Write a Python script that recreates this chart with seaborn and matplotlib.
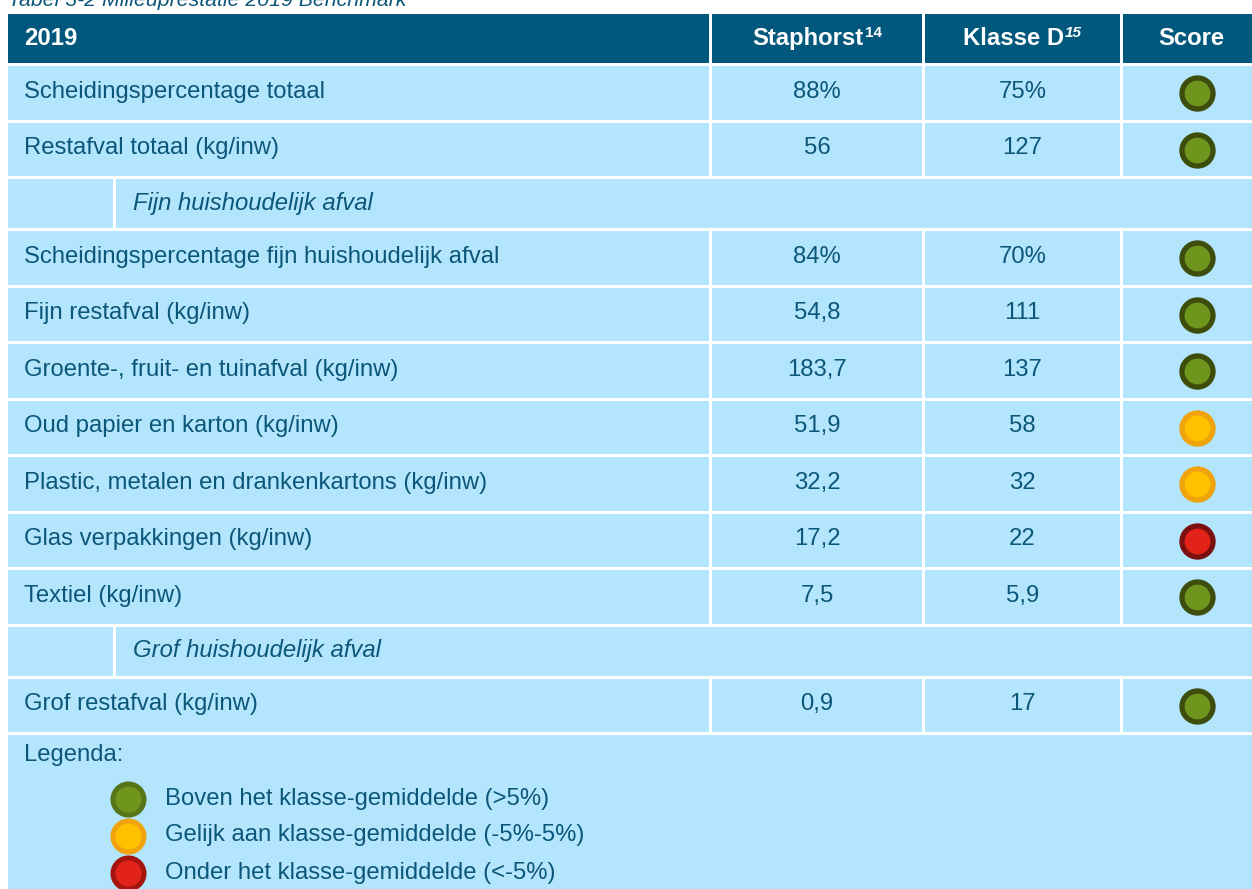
# Recreates the "Milieuprestatie 2019 Benchmark" table as a figure.

import seaborn as sns
import pandas as pd
import matplotlib.pyplot as plt
from matplotlib.patches import Rectangle

sns.set_theme(style="white")
plt.rcParams['font.family'] = ['Liberation Sans', 'DejaVu Sans']

# Table contents. None in the labels marks a section row.
title = "Tabel 3-2 Milieuprestatie 2019 Benchmark"
header = ["2019", "Staphorst", "Klasse D", "Score"]
header_sup = [None, "14", "15", None]
header_sup_italic = [False, False, True, False]
labels = [
    "Scheidingspercentage totaal",
    "Restafval totaal (kg/inw)",
    None,
    "Scheidingspercentage fijn huishoudelijk afval",
    "Fijn restafval (kg/inw)",
    "Groente-, fruit- en tuinafval (kg/inw)",
    "Oud papier en karton (kg/inw)",
    "Plastic, metalen en drankenkartons (kg/inw)",
    "Glas verpakkingen (kg/inw)",
    "Textiel (kg/inw)",
    None,
    "Grof restafval (kg/inw)",
]
sections = ["Fijn huishoudelijk afval", "Grof huishoudelijk afval"]
staphorst = [88, 56, 84, 54.8, 183.7, 51.9, 32.2, 17.2, 7.5, 0.9]
klasse_d = [75, 127, 70, 111, 137, 58, 32, 22, 5.9, 17]
is_percent = [True, False, True, False, False, False, False, False, False, False]
score = ["boven", "boven", "boven", "boven", "boven", "gelijk", "gelijk", "onder", "boven", "boven"]

legend_title = "Legenda:"
legend_keys = ["boven", "gelijk", "onder"]
legend_texts = [
    "Boven het klasse-gemiddelde (>5%)",
    "Gelijk aan klasse-gemiddelde (-5%-5%)",
    "Onder het klasse-gemiddelde (<-5%)",
]

# Styling.
header_bg = "#01587c"
cell_bg = "#b3e6fd"
text_col = "#0c5679"
fill = {"boven": "#6f961c", "gelijk": "#ffc000", "onder": "#e2231a"}
edge = {"boven": "#3d4d0c", "gelijk": "#f0a30c", "onder": "#7a1010"}
legend_edge = {"boven": "#57761a", "gelijk": "#f0a30c", "onder": "#a51510"}

# Layout in pixels.
col_edges = [8, 712, 925, 1123, 1262]
top = 14
gap = 3
header_h = 49
data_h = 53.5
section_h = 49
section_split = 116
fs = 17.2


def fmt(v, pct):
    s = f"{v:g}".replace(".", ",")
    return s + "%" if pct else s


fig = plt.figure(figsize=(12.52, 8.89), dpi=100)
ax = fig.add_axes([0, 0, 1, 1])
ax.set_xlim(0, 1252)
ax.set_ylim(889, 0)
ax.axis("off")

ax.text(8, 5.5, title, style="italic", fontsize=15.3, color=text_col, va="baseline")

# Header row.
for i in range(4):
    ax.add_patch(Rectangle((col_edges[i], top), col_edges[i + 1] - col_edges[i] - gap,
                           header_h, color=header_bg, lw=0))
hy = top + header_h / 2
ax.text(24, hy, header[0], color="white", fontsize=fs, weight="bold", va="center")
for i in range(1, 4):
    cx = (col_edges[i] + col_edges[i + 1] - gap) / 2
    if header_sup[i]:
        cx -= 9
    t = ax.text(cx, hy, header[i], color="white", fontsize=fs, weight="bold",
                ha="center", va="center")
    if header_sup[i]:
        ax.annotate(header_sup[i], xy=(1, 0.42), xycoords=t, xytext=(0.8, 0),
                    textcoords="offset points", color="white", fontsize=11,
                    weight="bold", style="italic" if header_sup_italic[i] else "normal",
                    va="bottom", ha="left")

# Body rows.
y = top + header_h + gap
rows = []
di = 0
si = 0
for lab in labels:
    if lab is None:
        ax.add_patch(Rectangle((col_edges[0], y), section_split - col_edges[0] - gap,
                               section_h, color=cell_bg, lw=0))
        ax.add_patch(Rectangle((section_split, y), col_edges[-1] - section_split,
                               section_h, color=cell_bg, lw=0))
        ax.text(133, y + section_h / 2, sections[si], style="italic", fontsize=fs,
                color=text_col, va="center")
        si += 1
        y += section_h + gap
        continue
    for i in range(4):
        ax.add_patch(Rectangle((col_edges[i], y), col_edges[i + 1] - col_edges[i] - gap,
                               data_h, color=cell_bg, lw=0))
    cy = y + data_h / 2
    ax.text(24, cy - 1, lab, fontsize=fs, color=text_col, va="center")
    for i, v in ((1, staphorst[di]), (2, klasse_d[di])):
        cx = (col_edges[i] + col_edges[i + 1] - gap) / 2
        ax.text(cx, cy - 1, fmt(v, is_percent[di]), fontsize=fs, color=text_col,
                ha="center", va="center")
    rows.append({"x": 1197, "y": cy + 0.5, "score": score[di]})
    di += 1
    y += data_h + gap

# Legend block.
ax.add_patch(Rectangle((col_edges[0], y), col_edges[-1] - col_edges[0], 889 - y + 10,
                       color=cell_bg, lw=0))
ax.text(24, y + 20, legend_title, fontsize=fs, color=text_col, va="center")
leg = pd.DataFrame({"x": [128] * 3, "y": [y + 63.5, y + 100.5, y + 137.5], "score": legend_keys})
for k, txt, ly in zip(legend_keys, legend_texts, leg["y"]):
    ax.text(165, ly, txt, fontsize=fs, color=text_col, va="center")

# Score dots.
df = pd.DataFrame(rows)
for k in legend_keys:
    sub = df[df["score"] == k]
    if len(sub):
        sns.scatterplot(data=sub, x="x", y="y", color=fill[k], edgecolor=edge[k],
                        linewidth=3.8, s=500, ax=ax, legend=False, zorder=5)
    lsub = leg[leg["score"] == k]
    sns.scatterplot(data=lsub, x="x", y="y", color=fill[k], edgecolor=legend_edge[k],
                    linewidth=3.6, s=500, ax=ax, legend=False, zorder=5)

ax.set_xlim(0, 1252)
ax.set_ylim(889, 0)
ax.set_xlabel("")
ax.set_ylabel("")

plt.savefig("out.png", dpi=100, facecolor="white")
plt.close()
